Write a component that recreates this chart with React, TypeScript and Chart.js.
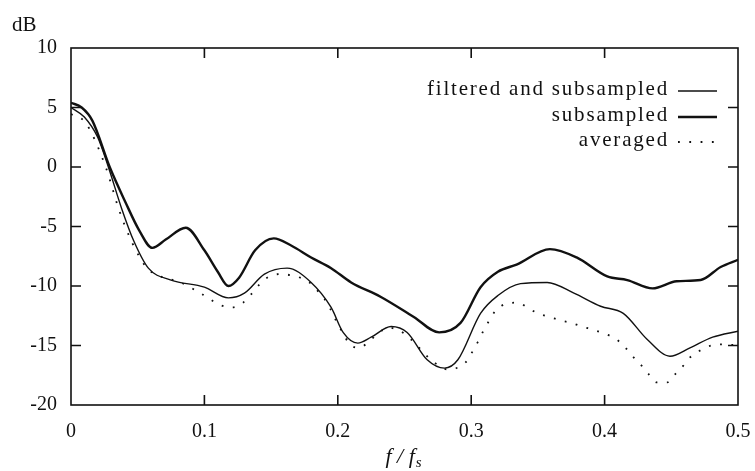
import React, { useEffect, useRef } from "react";
import { Chart, registerables } from "chart.js";

Chart.register(...registerables);

const xTicks = [0, 0.1, 0.2, 0.3, 0.4, 0.5];
const yTicks = [-20, -15, -10, -5, 0, 5, 10];

const subsampledX = [0, 0.008, 0.016, 0.029, 0.041, 0.051, 0.061, 0.071, 0.086, 0.1, 0.11, 0.118, 0.126, 0.138, 0.152, 0.165, 0.18, 0.195, 0.21, 0.232, 0.257, 0.276, 0.292, 0.307, 0.32, 0.334, 0.359, 0.379, 0.402, 0.417, 0.436, 0.454, 0.472, 0.487, 0.5];
const subsampledY = [5.4, 5.0, 3.9, 0, -3.0, -5.3, -6.8, -6.1, -5.1, -7.0, -8.8, -10.0, -9.3, -7.0, -6.0, -6.6, -7.6, -8.5, -9.7, -10.9, -12.6, -13.9, -13.1, -10.1, -8.8, -8.2, -6.9, -7.6, -9.2, -9.5, -10.2, -9.6, -9.5, -8.4, -7.8];

const filteredX = [0, 0.01, 0.02, 0.028, 0.038, 0.047, 0.058, 0.075, 0.1, 0.118, 0.13, 0.145, 0.162, 0.18, 0.195, 0.204, 0.215, 0.225, 0.24, 0.252, 0.267, 0.28, 0.29, 0.307, 0.32, 0.337, 0.357, 0.377, 0.397, 0.414, 0.432, 0.449, 0.464, 0.481, 0.5];
const filteredY = [5.0, 4.2, 2.5, 0, -3.5, -6.2, -8.5, -9.5, -10.1, -11.0, -10.6, -9.0, -8.5, -9.7, -11.8, -13.9, -14.8, -14.3, -13.4, -13.9, -16.2, -16.9, -16.2, -12.3, -10.8, -9.8, -9.7, -10.6, -11.7, -12.3, -14.5, -15.9, -15.2, -14.3, -13.8];

const averagedX = [0, 0.011, 0.026, 0.036, 0.046, 0.057, 0.065, 0.082, 0.097, 0.112, 0.121, 0.129, 0.135, 0.141, 0.147, 0.156, 0.165, 0.174, 0.181, 0.187, 0.192, 0.196, 0.2, 0.204, 0.209, 0.216, 0.223, 0.23, 0.238, 0.247, 0.254, 0.272, 0.282, 0.296, 0.301, 0.305, 0.309, 0.313, 0.318, 0.326, 0.335, 0.342, 0.35, 0.359, 0.367, 0.375, 0.383, 0.392, 0.4, 0.409, 0.415, 0.421, 0.427, 0.433, 0.439, 0.447, 0.453, 0.459, 0.465, 0.472, 0.48, 0.489, 0.5];
const averagedY = [4.45, 3.7, 0, -3.6, -6.4, -8.5, -9.1, -9.7, -10.6, -11.6, -11.8, -11.4, -10.7, -9.9, -9.3, -9.0, -9.1, -9.4, -9.9, -10.7, -11.4, -12.3, -13.2, -14.0, -14.9, -15.2, -14.7, -14.0, -13.5, -13.8, -14.4, -16.4, -17.0, -16.4, -15.5, -14.7, -13.8, -13.0, -12.1, -11.5, -11.4, -11.8, -12.3, -12.6, -12.9, -13.1, -13.4, -13.7, -14.0, -14.5, -15.1, -15.9, -16.6, -17.4, -18.1, -18.1, -17.4, -16.7, -15.9, -15.4, -15.0, -14.9, -15.0];

const seriesLabels = ["filtered and subsampled", "subsampled", "averaged"];

const FONT = '"Liberation Serif", "Times New Roman", serif';
const INK = "#111";

function pts(xs: number[], ys: number[]) {
  return xs.map((x, i) => ({ x, y: ys[i] }));
}

const decorPlugin = {
  id: "decor",
  afterDraw(chart: any) {
    const { ctx, chartArea } = chart;
    const { left, right, top, bottom } = chartArea;
    const xs = chart.scales.x;
    const ys = chart.scales.y;
    ctx.save();
    ctx.strokeStyle = INK;
    ctx.lineWidth = 1.6;
    ctx.strokeRect(left, top, right - left, bottom - top);
    const tl = 10;
    ctx.beginPath();
    xTicks.forEach((v) => {
      if (v <= xs.min || v >= xs.max) return;
      const px = xs.getPixelForValue(v);
      ctx.moveTo(px, bottom);
      ctx.lineTo(px, bottom - tl);
      ctx.moveTo(px, top);
      ctx.lineTo(px, top + tl);
    });
    yTicks.forEach((v) => {
      if (v <= ys.min || v >= ys.max) return;
      const py = ys.getPixelForValue(v);
      ctx.moveTo(left, py);
      ctx.lineTo(left + tl, py);
      ctx.moveTo(right, py);
      ctx.lineTo(right - tl, py);
    });
    ctx.stroke();

    // unit label
    ctx.fillStyle = INK;
    ctx.font = `21px ${FONT}`;
    ctx.textAlign = "left";
    ctx.textBaseline = "alphabetic";
    ctx.fillText("dB", 12, 31);

    // x title f/f_s
    const part1 = "f / f";
    ctx.font = `italic 22px ${FONT}`;
    const w1 = ctx.measureText(part1).width;
    ctx.font = `italic 15px ${FONT}`;
    const w2 = ctx.measureText("s").width;
    const cx = 403;
    const sx = cx - (w1 + w2) / 2;
    ctx.font = `italic 22px ${FONT}`;
    ctx.fillText(part1, sx, 463);
    ctx.font = `italic 15px ${FONT}`;
    ctx.fillText("s", sx + w1 + 1, 467);

    // legend
    const rows = [91, 117, 142];
    ctx.font = `21px ${FONT}`;
    (ctx as any).letterSpacing = "1.8px";
    ctx.textAlign = "right";
    ctx.textBaseline = "middle";
    chart.data.datasets.forEach((ds: any, i: number) => {
      const y = rows[i];
      ctx.fillStyle = INK;
      ctx.fillText(ds.label, 669, y - 2);
      ctx.save();
      ctx.strokeStyle = ds.borderColor;
      ctx.lineWidth = ds.borderWidth;
      ctx.setLineDash(ds.borderDash || []);
      ctx.lineCap = ds.borderCapStyle || "butt";
      ctx.beginPath();
      ctx.moveTo(678, y);
      ctx.lineTo(717, y);
      ctx.stroke();
      ctx.restore();
    });
    (ctx as any).letterSpacing = "0px";
    ctx.restore();
  },
};

export default function App() {
  const ref = useRef<HTMLCanvasElement | null>(null);
  useEffect(() => {
    if (!ref.current) return;
    const chart = new Chart(ref.current, {
      type: "line",
      data: {
        datasets: [
          {
            label: seriesLabels[0],
            data: pts(filteredX, filteredY),
            borderColor: INK,
            borderWidth: 1.4,
            pointRadius: 0,
            cubicInterpolationMode: "monotone",
            fill: false,
          },
          {
            label: seriesLabels[1],
            data: pts(subsampledX, subsampledY),
            borderColor: INK,
            borderWidth: 2.4,
            pointRadius: 0,
            cubicInterpolationMode: "monotone",
            fill: false,
          },
          {
            label: seriesLabels[2],
            data: pts(averagedX, averagedY),
            borderColor: INK,
            borderWidth: 1.8,
            borderDash: [1.8, 9.5],
            borderCapStyle: "butt",
            pointRadius: 0,
            cubicInterpolationMode: "monotone",
            fill: false,
          },
        ] as any,
      },
      options: {
        responsive: false,
        animation: false,
        layout: { padding: { top: 48, right: 17, left: 0, bottom: 0 } },
        plugins: {
          legend: { display: false },
          tooltip: { enabled: false },
        },
        scales: {
          x: {
            type: "linear",
            min: 0,
            max: 0.5,
            afterFit: (s: any) => {
              s.height = 66;
              s.paddingLeft = 0;
              s.paddingRight = 0;
            },
            afterBuildTicks: (s: any) => {
              s.ticks = xTicks.map((v) => ({ value: v }));
            },
            grid: { display: false, drawTicks: false },
            border: { display: false },
            ticks: {
              padding: 15,
              color: INK,
              font: { family: FONT, size: 20 },
              maxRotation: 0,
              callback: (v: any) => String(v),
            },
          },
          y: {
            type: "linear",
            min: -20,
            max: 10,
            afterFit: (s: any) => {
              s.width = 71;
              s.paddingTop = 0;
              s.paddingBottom = 0;
            },
            afterBuildTicks: (s: any) => {
              s.ticks = yTicks.map((v) => ({ value: v }));
            },
            grid: { display: false, drawTicks: false },
            border: { display: false },
            ticks: {
              padding: 14,
              color: INK,
              font: { family: FONT, size: 20 },
              callback: (v: any) => String(v),
            },
          },
        },
      } as any,
      plugins: [decorPlugin],
    });
    return () => chart.destroy();
  }, []);
  return (
    <div style={{ position: "absolute", left: 0, top: 0, width: 755, height: 471, background: "#fff" }}>
      <canvas ref={ref} width={755} height={471} style={{ display: "block" }} />
    </div>
  );
}
